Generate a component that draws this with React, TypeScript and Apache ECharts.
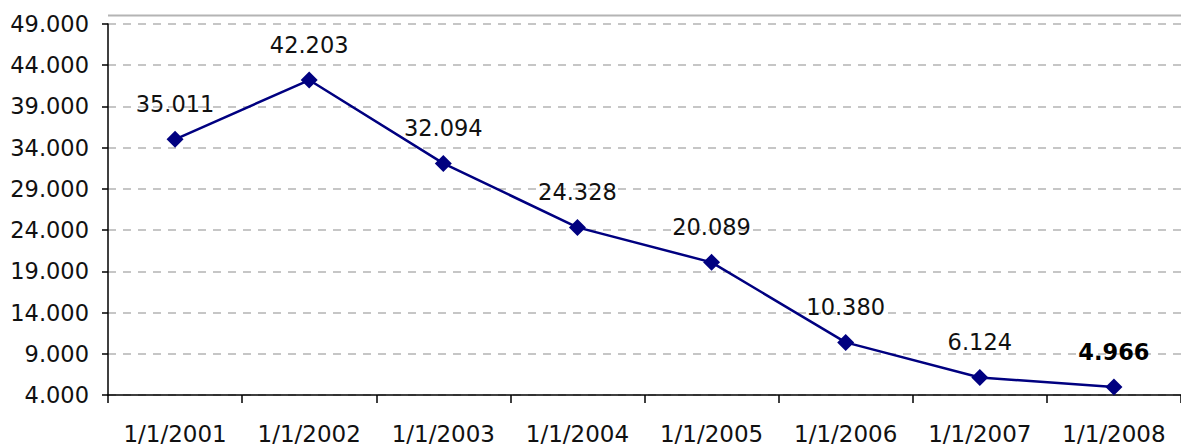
import React, { useEffect, useRef } from "react";
import * as echarts from "echarts";

const categories = ["1/1/2001", "1/1/2002", "1/1/2003", "1/1/2004", "1/1/2005", "1/1/2006", "1/1/2007", "1/1/2008"];
const values = [35011, 42203, 32094, 24328, 20089, 10380, 6124, 4966];

const fmt = (v: number) => {
  const s = Math.round(v).toString();
  return s.replace(/\B(?=(\d{3})+(?!\d))/g, ".");
};

export default function App() {
  const ref = useRef<HTMLDivElement>(null);
  useEffect(() => {
    if (!ref.current) return;
    const chart = echarts.init(ref.current, undefined, { renderer: "svg" });
    const font = "'DejaVu Sans', Verdana, sans-serif";
    chart.setOption({
      animation: false,
      backgroundColor: "#ffffff",
      grid: { left: 108, right: -9, top: 24, bottom: 44, containLabel: false },
      xAxis: {
        type: "category",
        data: categories,
        boundaryGap: true,
        axisLine: { lineStyle: { color: "#000000", width: 1.5 } },
        axisTick: { show: true, length: 8, alignWithLabel: false, lineStyle: { color: "#000000", width: 1.5 } },
        axisLabel: { color: "#111111", fontFamily: font, fontSize: 23, margin: 27, interval: 0 },
      },
      yAxis: {
        type: "value",
        min: 4000,
        max: 49000,
        interval: 5000,
        axisLine: { show: true, lineStyle: { color: "#000000", width: 1.5 } },
        axisTick: { show: true, length: 6, lineStyle: { color: "#000000", width: 1.5 } },
        axisLabel: { color: "#111111", fontFamily: font, fontSize: 22.5, margin: 19, formatter: (v: number) => fmt(v) },
        splitLine: { show: true, lineStyle: { color: "#b4b4b4", type: [8, 7], width: 1.5 } },
      },
      graphic: [
        {
          type: "line",
          shape: { x1: 108, y1: 15.5, x2: 1181, y2: 15.5 },
          style: { stroke: "#b4b4b4", lineWidth: 2 },
        },
      ],
      series: [
        {
          type: "line",
          data: values.map((v, i) => ({
            value: v,
            label: i === values.length - 1 ? { fontWeight: "bold", color: "#000000" } : undefined,
          })),
          symbol: "diamond",
          symbolSize: 17,
          lineStyle: { color: "#000080", width: 2.5 },
          itemStyle: { color: "#000080" },
          label: {
            show: true,
            position: "top",
            distance: 15,
            color: "#111111",
            fontFamily: font,
            fontSize: 22.5,
            formatter: (p: any) => fmt(p.value),
          },
        },
      ],
    });
    return () => chart.dispose();
  }, []);
  return <div ref={ref} style={{ position: "fixed", left: 0, top: 0, width: 1181, height: 445 }} />;
}
